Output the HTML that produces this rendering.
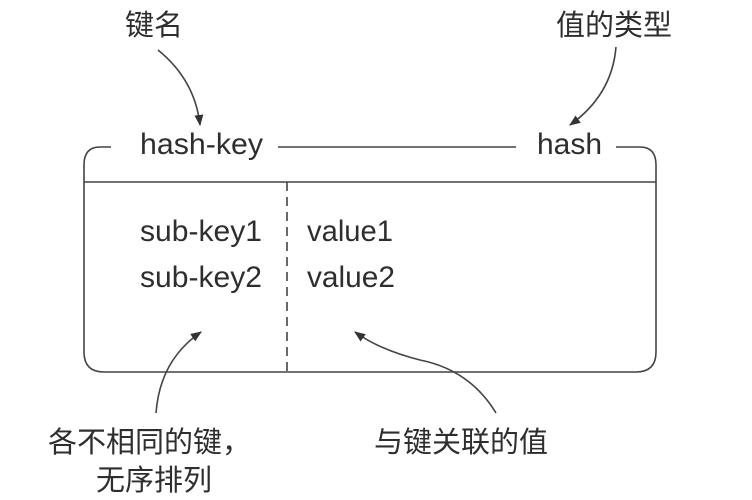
<!DOCTYPE html>
<html><head><meta charset="utf-8"><style>
html,body{margin:0;padding:0;background:#fff;}
svg{display:block;}
text{fill:#2e2e2e;}
.en{font-family:"Liberation Sans",sans-serif;font-size:30px;}
.cn{font-family:"Liberation Sans","Noto Sans CJK SC",sans-serif;font-size:29px;}
</style></head><body>
<svg width="752" height="500" viewBox="0 0 752 500" xmlns="http://www.w3.org/2000/svg">
<defs><marker id="ah" viewBox="0 0 10 10" refX="9" refY="5" markerWidth="7" markerHeight="7" orient="auto-start-reverse"><path d="M0,1 L10,5 L0,9 z" fill="#333"/></marker></defs>
<g fill="none" stroke="#444" stroke-width="1.6">
<path d="M111,147 L100,147 Q84,147 84,165 L84,352 Q84,372 104,372 L636,372 Q656,372 656,352 L656,165 Q656,147 640,147 L616,147"/>
<line x1="278" y1="147" x2="516" y2="147"/>
<line x1="84" y1="182" x2="656" y2="182"/>
<line x1="287" y1="182" x2="287" y2="372" stroke-dasharray="9,6"/>
<path d="M158,50 Q195,80 200,125" marker-end="url(#ah)"/>
<path d="M616,47 Q612,95 570,125" marker-end="url(#ah)"/>
<path d="M156,413 Q160,360 201,332" marker-end="url(#ah)"/>
<path d="M496,413 Q470,370 420,360 Q380,350 355,332" marker-end="url(#ah)"/>
</g>
<text class="en" x="140" y="154" textLength="123" lengthAdjust="spacingAndGlyphs">hash-key</text>
<text class="en" x="537" y="154" textLength="65" lengthAdjust="spacingAndGlyphs">hash</text>
<text class="en" x="140" y="241" textLength="122" lengthAdjust="spacingAndGlyphs">sub-key1</text>
<text class="en" x="307" y="241" textLength="86" lengthAdjust="spacingAndGlyphs">value1</text>
<text class="en" x="140" y="287" textLength="122" lengthAdjust="spacingAndGlyphs">sub-key2</text>
<text class="en" x="307" y="287" textLength="88" lengthAdjust="spacingAndGlyphs">value2</text>
<text class="cn" x="125" y="35">键名</text>
<text class="cn" x="556" y="35">值的类型</text>
<text class="cn" x="48" y="452">各不相同的键，</text>
<text class="cn" x="96" y="490">无序排列</text>
<text class="cn" x="374" y="452">与键关联的值</text>
</svg>
</body></html>
